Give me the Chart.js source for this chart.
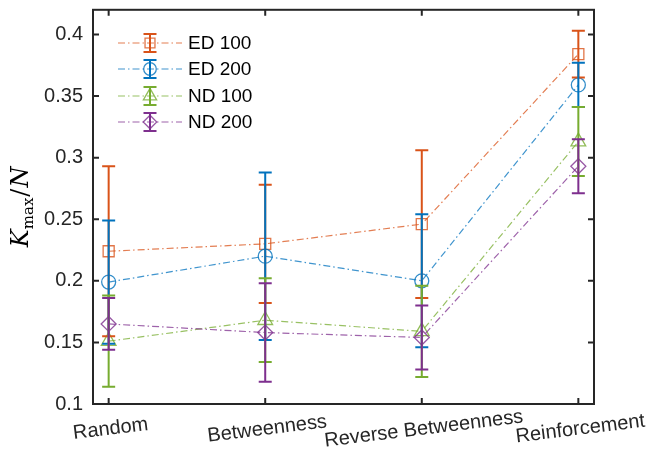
<!DOCTYPE html>
<html>
<head>
<meta charset="utf-8">
<script src="https://cdn.jsdelivr.net/npm/chart.js@4/dist/chart.umd.min.js"></script>
<style>
  html, body { margin: 0; padding: 0; background: #fff; }
  canvas { display: block; }
</style>
</head>
<body>
<canvas id="kChart" width="651" height="452"></canvas>
<script>
// data
const categories = ['Random', 'Betweenness', 'Reverse Betweenness', 'Reinforcement'];
const xPos = [0, 1, 2, 3];
const yTicks = [0.1, 0.15, 0.2, 0.25, 0.3, 0.35, 0.4];
const yTickLabels = ['0.1', '0.15', '0.2', '0.25', '0.3', '0.35', '0.4'];

const seriesNames = ['ED 100', 'ED 200', 'ND 100', 'ND 200'];
const ed100Mean = [0.224, 0.230, 0.246, 0.384];
const ed100Err = [0.069, 0.048, 0.060, 0.019];
const ed200Mean = [0.199, 0.220, 0.200, 0.359];
const ed200Err = [0.050, 0.068, 0.054, 0.018];
const nd100Mean = [0.151, 0.168, 0.159, 0.313];
const nd100Err = [0.037, 0.034, 0.037, 0.028];
const nd200Mean = [0.165, 0.158, 0.154, 0.293];
const nd200Err = [0.021, 0.040, 0.026, 0.022];

const means = [ed100Mean, ed200Mean, nd100Mean, nd200Mean];
const errs = [ed100Err, ed200Err, nd100Err, nd200Err];
const colors = ['217,83,25', '0,114,189', '119,172,48', '126,47,142'];
const markers = ['rect', 'circle', 'triangle', 'rectRot'];
const markerSize = [7.8, 7, 8.5, 7.5];

const axisColor = '#262626';
const dashDot = [7, 3, 1.5, 3];

const datasets = seriesNames.map((name, i) => ({
    label: name,
    data: xPos.map((x, j) => ({ x: x, y: means[i][j] })),
    borderColor: 'rgba(' + colors[i] + ',0.75)',
    borderWidth: 1.2,
    borderDash: dashDot,
    pointStyle: markers[i],
    pointRadius: markerSize[i],
    pointBorderColor: 'rgba(' + colors[i] + ',0.8)',
    pointBackgroundColor: 'rgba(0,0,0,0)',
    pointBorderWidth: 1.3,
    tension: 0,
    fill: false,
    order: 3 - i
}));

function drawErrBar(ctx, x, yTop, yBot, color) {
    const cap = 6.5;
    ctx.strokeStyle = color;
    ctx.lineWidth = 2;
    ctx.setLineDash([]);
    ctx.beginPath();
    ctx.moveTo(x, yTop); ctx.lineTo(x, yBot);
    ctx.moveTo(x - cap, yTop); ctx.lineTo(x + cap, yTop);
    ctx.moveTo(x - cap, yBot); ctx.lineTo(x + cap, yBot);
    ctx.stroke();
}

// error bars, box, ticks, x labels, y title, legend
const matlabLook = {
    id: 'matlabLook',
    afterDatasetsDraw(chart) {
        const ctx = chart.ctx;
        const xs = chart.scales.x, ys = chart.scales.y;
        ctx.save();
        means.forEach((m, i) => {
            m.forEach((v, j) => {
                const px = xs.getPixelForValue(xPos[j]);
                drawErrBar(ctx, px, ys.getPixelForValue(v + errs[i][j]),
                    ys.getPixelForValue(v - errs[i][j]), 'rgb(' + colors[i] + ')');
            });
        });
        ctx.restore();
    },
    afterDraw(chart) {
        const ctx = chart.ctx;
        const a = chart.chartArea;
        const xs = chart.scales.x, ys = chart.scales.y;
        ctx.save();
        // box
        ctx.strokeStyle = axisColor;
        ctx.lineWidth = 2;
        ctx.strokeRect(a.left, a.top, a.right - a.left, a.bottom - a.top);
        // ticks pointing in
        const tl = 6;
        ctx.beginPath();
        xPos.forEach(v => {
            const px = xs.getPixelForValue(v);
            ctx.moveTo(px, a.bottom); ctx.lineTo(px, a.bottom - tl);
            ctx.moveTo(px, a.top); ctx.lineTo(px, a.top + tl);
        });
        yTicks.forEach(v => {
            const py = ys.getPixelForValue(v);
            ctx.moveTo(a.left, py); ctx.lineTo(a.left + tl, py);
            ctx.moveTo(a.right, py); ctx.lineTo(a.right - tl, py);
        });
        ctx.stroke();

        // rotated category labels
        ctx.fillStyle = axisColor;
        ctx.font = '20px "Liberation Sans", Arial, sans-serif';
        ctx.textAlign = 'center';
        ctx.textBaseline = 'middle';
        categories.forEach((c, j) => {
            const px = xs.getPixelForValue(xPos[j]) + 2;
            ctx.save();
            ctx.translate(px, a.bottom + 25);
            ctx.rotate(-7 * Math.PI / 180);
            ctx.fillText(c, 0, 0);
            ctx.restore();
        });

        // y title K_max / N
        ctx.save();
        ctx.translate(28, (a.top + a.bottom) / 2);
        ctx.rotate(-Math.PI / 2);
        ctx.fillStyle = '#000';
        ctx.textAlign = 'left';
        ctx.textBaseline = 'alphabetic';
        const big = 'italic 24px "DejaVu Serif", "Liberation Serif", serif';
        const sub = '15px "DejaVu Serif", "Liberation Serif", serif';
        const slash = '24px "DejaVu Serif", "Liberation Serif", serif';
        ctx.font = big; const wK = ctx.measureText('K').width;
        ctx.font = sub; const wM = ctx.measureText('max').width;
        ctx.font = slash; const wS = ctx.measureText('/').width;
        ctx.font = big; const wN = ctx.measureText('N').width;
        let x0 = -(wK + wM + wS + wN + 2) / 2;
        ctx.font = big; ctx.fillText('K', x0, 0); x0 += wK;
        ctx.font = sub; ctx.fillText('max', x0, 5); x0 += wM + 1;
        ctx.font = slash; ctx.fillText('/', x0, 0); x0 += wS + 1;
        ctx.font = big; ctx.fillText('N', x0, 0);
        ctx.restore();

        // legend inside the axes
        const rowsY = [43, 69, 96, 122];
        seriesNames.forEach((name, i) => {
            const y = rowsY[i];
            ctx.strokeStyle = 'rgba(' + colors[i] + ',0.75)';
            ctx.lineWidth = 1.2;
            ctx.setLineDash(dashDot);
            ctx.beginPath();
            ctx.moveTo(118, y); ctx.lineTo(182, y);
            ctx.stroke();
            ctx.setLineDash([]);
            drawErrBar(ctx, 150, y - 9, y + 9, 'rgb(' + colors[i] + ')');
            ctx.lineWidth = 1.3;
            ctx.fillStyle = 'rgba(0,0,0,0)';
            ctx.strokeStyle = 'rgba(' + colors[i] + ',0.8)';
            Chart.helpers.drawPoint(ctx, {
                pointStyle: markers[i],
                radius: markerSize[i] * 0.9,
                borderWidth: 1.3
            }, 150, y);
            ctx.fillStyle = '#000';
            ctx.font = '19px "Liberation Sans", Arial, sans-serif';
            ctx.textAlign = 'left';
            ctx.textBaseline = 'middle';
            ctx.fillText(name, 188, y + 1);
        });
        ctx.restore();
    }
};

const ctx = document.getElementById('kChart').getContext('2d');
const kChart = new Chart(ctx, {
    type: 'line',
    data: { datasets: datasets },
    options: {
        responsive: false,
        animation: false,
        layout: { padding: { top: 7, right: 57, left: 0, bottom: 0 } },
        plugins: {
            legend: { display: false },
            tooltip: { enabled: false }
        },
        scales: {
            x: {
                type: 'linear',
                min: -0.1,
                max: 3.1,
                grid: { display: false, drawTicks: false },
                border: { display: false },
                ticks: { display: false },
                afterFit: s => { s.height = 48; s.paddingLeft = 0; s.paddingRight = 0; }
            },
            y: {
                type: 'linear',
                min: 0.1,
                max: 0.42,
                bounds: 'data',
                grid: { display: false, drawTicks: false },
                border: { display: false },
                afterDataLimits: s => { s.min = 0.1; s.max = 0.42; },
                afterBuildTicks: s => { s.ticks = yTicks.map(v => ({ value: v })); s.min = 0.1; s.max = 0.42; },
                afterFit: s => { s.width = 93; s.paddingTop = 0; s.paddingBottom = 0; },
                ticks: {
                    padding: 10,
                    color: axisColor,
                    font: { family: '"Liberation Sans", Arial, sans-serif', size: 20 },
                    callback: (v) => {
                        const k = yTicks.findIndex(t => Math.abs(t - v) < 1e-9);
                        return k >= 0 ? yTickLabels[k] : '';
                    }
                }
            }
        }
    },
    plugins: [matlabLook]
});
</script>
</body>
</html>
